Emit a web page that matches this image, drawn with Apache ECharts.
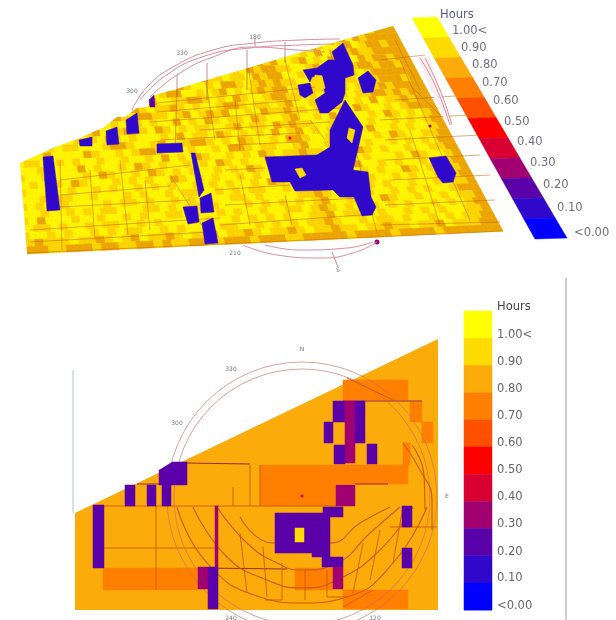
<!DOCTYPE html>
<html><head><meta charset="utf-8">
<style>html,body{margin:0;padding:0;background:#fff}#c{width:616px;height:620px;filter:blur(0.7px)}</style>
<script src="https://cdn.jsdelivr.net/npm/echarts@6/dist/echarts.min.js"></script>
</head><body><div id="c"></div>
<script>
const bandValues=[1.0,0.9,0.8,0.7,0.6,0.5,0.4,0.3,0.2,0.1,0.0];
const bandColors=['#ffff00','#ffdc00','#fbab0a','#ff8000','#ff5000','#ff0000','#d80030','#a00070','#5a00a8','#3008cc','#0000ff'];
const tickLabels=['1.00<','0.90','0.80','0.70','0.60','0.50','0.40','0.30','0.20','0.10','<0.00'];
const colorOf=v=>bandColors[bandValues.indexOf(v)];
const surfaceShades={a:'#fff400','9':'#fbd400','8':'#eba400'};

// upper panel: surface readings, rows from far edge to near edge (8=0.8, 9=0.9, a=1.0)
const surfaceRows=[
"999899889988998899889988998899889988998899889988899888",
"899a99889a9989a9988a9989a99889889988aa99899a988a898888",
"9a8a9989aa9989aa9889a9899a9a98998898a9a9889aa98a988988",
"9aa99a8899a988a9a989aa98a99a9899a88899aa9a8a9a98998888",
"a9989a9a8a99aa989a98a9a89aa988a98898aa98a9a8a9a8988988",
"9a9a8a99a98a9a9a8aa989a9a98a9a9a898899aa98a9a998898898",
"8899aa8a99a9889a99a98a9a8899a99a8988aa9a9a9889a9888888",
"a9a989aa98a9a98aa89a9a89aa9a889a989899aa9a8a99a8988898",
"9aa8a9989a99aa9889a988aa9a98a9a98988a9a98aa9a989898888",
"a89a9a9a89a8899a9a8aa99889a9a89aa98899a9aa89a998898988",
"9a9889aa9a89aa989a9989a9aa9889a99a98aa9a89aa9a8a998988",
"9a9a9889a9a9889a8899a98a9898aa9a899899a9aa9a89aa9a9888",
"aaaa9a98a89a9a99a9aa8a9a89a99a89aa98aa9a8a9aa9a89a9a98",
"9a89aaaaa98aa9889a89a9a99aa98a99a89899aa9a89a9aa9a9a98",
"aa9a8aa9a9a89a9aaa9a8a99a89a9a9a8a98a9a9aa9a8aa9a9aa98",
"a9aa9a99aaa9889aa98aa9889a9a89aa9a889aa9a89aa9a89aa998",
"9aa8aaaa89aa9a9889aaa9aa9a889a99aa98aa9aa9a9aa9a9a9a88",
"a99aa9a9aa9aa9aa9a8a9a89aa9a9a89a99899a9aa89a9aa9aa998",
"aa9aaaa8a9aa9a89a9aa9a9a89a9aa9a89a8a9aa9a9aaa9a89aa98",
"9aa9aaaa9a89aa9a89a9a9aa9a9a89aa9a989aa9a8aa9a9aa9a998",
"a9aa9a89aaa9a9a9aa89a9a9aa9a9aaa9aa8aa9aa9a9aa89a9aa98",
"9aaaaa9aa9a9aa9a9a9aa9a9a9aa9a89aa98a9a9aa9aa9a9aa9a98",
"aa9a99aa9aaa9a9aa9a99aa9a9a99aa9a9989aa9a9a9aa9aa9a998",
"9a9aa9aaaa9a99a9aa9a9a9aa99a9aaaa9989a9aa9aa9a9a9aa988",
"aa9aa9a9a99aaa99a9a99a9aaa9a9a9a9a98aa9a9a89aa9aa9a998",
"9a8aaa9aa9aa9a9aa99a9aa9a9aa9aa99a989a9aa9a9a9aa9a9a98",
"a99a9aa9a99aa9a9aaa9a9aa9a9a9a9aa998a99aa9aa9a9a9aa998",
"9aa9a9aa9a9a99aa9a9aa9a99aa9a9a9a9989aa9a99a9aa9a9a998",
"98999a9989a98a9989a998a9989a9989a99899a99899a998a99988",
"888998889889988989988998889888998888898888988889888888"
];
const surfaceCorners=[[10,40],[393,26],[503,231],[27,254]];
const surfaceEdge=[[0,0],[393,0],[393,26],[343,40],[173,90],[155,95],[147,107],[137,108],[125,117],[117,117],[103,128],[93,132],[80,138],[53,148],[20,163],[27,254],[0,254]];

const surfaceLow=[
{v:0.1,pts:[[43,157],[53,156],[60,210],[47,211]]},
{v:0.1,pts:[[79,140],[92,137],[92,146],[80,146]]},
{v:0.1,pts:[[106,131],[117,127],[119,144],[107,145]]},
{v:0.1,pts:[[126,120],[137,113],[139,133],[127,134]]},
{v:0.2,pts:[[149,100],[154,95],[155,107],[150,107]]},
{v:0.1,pts:[[157,144],[182,143],[183,152],[157,153]]},
{v:0.1,pts:[[191,153],[195,153],[204,190],[199,197]]},
{v:0.1,pts:[[200,198],[211,193],[214,212],[201,213]]},
{v:0.1,pts:[[183,207],[197,206],[199,222],[188,224]]},
{v:0.1,pts:[[202,223],[213,218],[218,243],[205,244]]},
{v:0.1,pts:[[265,157],[317,155],[330,147],[330,130],[345,100],[363,127],[353,170],[368,172],[371,197],[376,207],[372,215],[362,216],[354,197],[340,197],[333,190],[295,191],[290,182],[272,182]]},
{v:0.1,pts:[[343,43],[353,65],[354,75],[345,78],[337,65],[332,52]]},
{v:0.1,pts:[[303,70],[317,68],[328,60],[337,60],[345,78],[345,93],[342,102],[328,113],[320,113],[315,100],[325,93],[322,75],[312,77],[310,82]]},
{v:0.1,pts:[[298,85],[310,83],[313,93],[305,98],[300,95]]},
{v:0.1,pts:[[358,78],[368,71],[376,80],[373,92],[363,93]]},
{v:0.1,pts:[[429,158],[446,156],[456,173],[453,182],[443,183],[438,177]]},
{v:0.9,pts:[[349,128],[355,130],[352,143],[347,138]]},
{v:0.9,pts:[[295,169],[302,168],[306,175],[300,178]]},
{v:0.9,pts:[[315,75],[322,76],[325,88],[318,92],[314,85]]}
];
const surfaceLines=[
[[157,103],[335,85]],[[150,122],[340,108]],[[160,140],[300,133]],[[60,180],[190,165]],
[[30,230],[220,218]],[[60,207],[190,200]],[[220,225],[375,214]],[[215,190],[290,185]],
[[395,100],[470,95]],[[385,140],[480,135]],[[390,180],[490,175]],[[380,225],[500,222]],
[[177,90],[175,150]],[[206,82],[215,140]],[[248,65],[260,145]],[[285,60],[300,120]],
[[120,160],[128,235]],[[60,160],[62,250]],[[170,175],[205,230]],[[330,50],[377,233]],[[400,60],[470,220]],
[[27,253],[503,231]],[[410,85],[440,115]],[[395,40],[420,90]],
[[157,112],[300,100]],[[200,130],[330,122]],[[230,145],[300,142]],[[60,195],[170,186]],[[225,170],[265,168]],
[[225,205],[360,198]],[[30,242],[210,232]],[[380,60],[425,55]],[[380,120],[470,115]],[[385,160],[480,155]],
[[385,205],[495,200]],[[235,100],[240,150]],[[310,120],[325,140]],[[410,130],[440,225]],[[90,170],[95,240]],
[[145,180],[150,230]],[[240,175],[250,225]],[[285,195],[292,225]]
];
const surfacePinkGap=[[417,57],[430,57],[452,127],[443,117]];
const surfaceArcs=[
[[132,110],[147,87],[173,67],[213,50],[255,43],[300,40],[340,39]],
[[150,97],[177,75],[213,57],[253,47],[297,50],[325,52]],
[[140,100],[165,76],[205,56],[250,48],[300,45],[335,44]],
[[243,245],[277,255],[320,258],[353,253],[377,242]],
[[265,245],[300,250],[347,248],[373,242]],
[[420,58],[435,85],[450,125]],[[425,58],[440,90],[452,125]]
];
const surfaceTicks=[[[177,75],[177,97]],[[207,63],[207,100]],[[247,50],[247,90]],[[285,42],[285,63]],[[332,252],[338,267]],[[255,38],[255,46]]];

// lower panel: plan
const planField=[[75,513],[438,339],[438,610],[75,610]];
const planWarm=[
[343,408,380,400,0.7],[410,422,402,422,0.7],[422,433,422,443,0.7],[260,408,465,484,0.7],[260,336,484,506,0.7],
[403,410,443,465,0.7],[103,198,568,590,0.7],[295,333,568,590,0.7],[343,408,590,609,0.7]
];
const planCells=[
[333,345,401,422,0.2],[345,355,401,463,0.3],[355,365,401,443,0.2],[324,333,422,443,0.2],[334,345,445,464,0.2],
[367,377,444,464,0.2],[336,355,485,506,0.3],[172,187,462,485,0.2],[159,172,470,485,0.2],[125,135,485,506,0.2],
[147,156,485,506,0.2],[162,171,485,506,0.2],[93,104,505,568,0.2],[275,330,513,553,0.2],[323,343,507,517,0.2],
[322,343,557,567,0.2],[312,330,553,557,0.2],[333,343,567,589,0.3],[402,412,506,527,0.2],[402,412,548,568,0.2],
[198,208,567,589,0.3],[208,218,567,609,0.2],[215,218,506,567,0.3],[295,304,528,542,0.9]
];
const planWedge=[[159,470],[172,462],[172,470]];
const planLines=[
[[187,463],[250,464],[0.3]],[[137,484],[159,484],[0.3]],[[93,506],[343,506],[0.6]],[[198,568],[287,569],[0.3]],
[[343,401],[422,401],[0.4]],[[355,484],[388,484],[0.4]],[[156,506],[156,590],[0.6]],[[250,465],[250,506],[0.6]],
[[260,465],[260,506],[0.6]],[[233,487],[233,506],[0.6]],[[104,548],[215,548],[0.6]],[[390,527],[437,527],[0.6]],
[[240,533],[247,593],[0.6]],[[263,547],[267,597],[0.6]],[[282,563],[282,600],[0.6]],[[305,570],[305,600],[0.6]],
[[327,570],[327,597],[0.6]],[[363,543],[353,593],[0.6]],[[380,530],[370,580],[0.6]],[[403,507],[393,563],[0.6]],
[[347,378],[393,400],[0.6]],[[343,607],[373,590],[0.6]],[[265,600],[282,600],[0.6]],[[327,597],[347,597],[0.6]]
];
const sunRings=[[302,497,135],[302,497,128]];
const planArcs=[
[[177,507],[207,563],[260,597],[302,603],[347,597],[393,563],[427,507]],
[[193,507],[227,557],[267,580],[302,588],[337,580],[380,550],[413,507]],
[[217,507],[247,543],[277,563],[302,570],[337,563],[370,533],[400,507]],
[[240,517],[273,543],[330,543],[360,523],[390,507]],
[[403,443],[420,470],[432,500],[432,530]],
[[412,445],[424,475],[425,510]]
];
const planSpots=[[302,496,0.4,1.5],[290,138,0.5,1.5],[377,242,0.3,2.5],[430,126,0.3,1.5]];

const axisRules=[[[12,60],[17,163],'#c3d2ca'],[[73,370],[73,513],'#c8d8d0'],[[566,278],[566,620],'#bdbdbd']];
const planLegendBox=[464,492,311,27.2];
const surfaceLegendBox=[[412,18],[437,17],[567,238],[535,239]];
const planLegendY=[335,362,389,416,443,470,497,524,552,578,606];
const surfaceLegendPos=[[452,31],[461,48],[472,65],[482,83],[493,101],[504,122],[517,142],[530,163],[543,185],[557,208],[574,233]];
const smallTexts=[['180',255,37],['330',182,53],['300',132,91],['210',235,253],['S',338,270],['N',302,349],['330',231,369],['300',177,423],['E',447,496],['240',231,618],['120',375,618]];

const chart=echarts.init(document.getElementById('c'),null,{renderer:'canvas'});
const base={type:'custom',coordinateSystem:'cartesian2d',silent:true,animation:false,clip:false};
const polys=(list,z,styleFn)=>Object.assign({},base,{z,data:list.map((p,i)=>[p.pts[0][0],p.pts[0][1],i]),
  renderItem:(_,api)=>{const p=list[api.value(2)];return {type:'polygon',shape:{points:p.pts.map(q=>api.coord(q))},style:styleFn(p)};}});
const segs=(list,z,styleFn)=>Object.assign({},base,{z,data:list.map((p,i)=>[p[0][0],p[0][1],i]),
  renderItem:(_,api)=>{const p=list[api.value(2)];return {type:'line',shape:{x1:api.coord(p[0])[0],y1:api.coord(p[0])[1],x2:api.coord(p[1])[0],y2:api.coord(p[1])[1]},style:styleFn(p)};}});
const curve=(pts,color,z,w)=>({type:'line',data:pts,smooth:0.5,symbol:'none',silent:true,animation:false,z,clip:false,lineStyle:{color,width:w}});
const texts=(list,z,font,color)=>Object.assign({},base,{z,data:list.map((t,i)=>[t.x,t.y,i]),
  renderItem:(_,api)=>{const t=list[api.value(2)];const c=api.coord([t.x,t.y]);return {type:'text',x:c[0],y:c[1],style:{text:t.s,font:(t.font||font),fill:(t.fill||color),textAlign:t.align||'left',textVerticalAlign:'middle'}};}});

const lerp=(a,b,t)=>[a[0]+(b[0]-a[0])*t,a[1]+(b[1]-a[1])*t];
const quadAt=(q,u,v)=>lerp(lerp(q[0],q[1],u),lerp(q[3],q[2],u),v);
const surfaceCells=[];
surfaceRows.forEach((row,r)=>{[...row].forEach((ch,i)=>{
  const off=r%2?0.5:0;
  const u0=Math.max(0,(i-off)/row.length),u1=i===row.length-1?1:(i+1-off)/row.length,v0=r/surfaceRows.length,v1=(r+1)/surfaceRows.length;
  surfaceCells.push({c:surfaceShades[ch],pts:[quadAt(surfaceCorners,u0,v0),quadAt(surfaceCorners,u1,v0),quadAt(surfaceCorners,u1,v1),quadAt(surfaceCorners,u0,v1)]});
});});
const surfaceLegendCells=bandValues.map((v,i)=>{const t0=i/11,t1=(i+1)/11;return {v,pts:[quadAt(surfaceLegendBox,0,t0),quadAt(surfaceLegendBox,1,t0),quadAt(surfaceLegendBox,1,t1),quadAt(surfaceLegendBox,0,t1)]};});
const planLegendCells=bandValues.map((v,i)=>{const [a,b,t,h]=planLegendBox;return {v,pts:[[a,t+i*h],[b,t+i*h],[b,t+(i+1)*h],[a,t+(i+1)*h]]};});
const toRect=c=>({v:c[4],pts:[[c[0],c[2]],[c[1],c[2]],[c[1],c[3]],[c[0],c[3]]]});
const fillV=p=>{const col=colorOf(p.v);return {fill:col,stroke:col,lineWidth:0.5};};

const labelList=[
 {s:'Hours',x:497,y:307,font:'11.5px "DejaVu Sans"',fill:'#444'},
 ...tickLabels.map((s,i)=>({s,x:497,y:planLegendY[i]})),
 {s:'Hours',x:440,y:15,fill:'#5a5a90'},
 ...tickLabels.map((s,i)=>({s,x:surfaceLegendPos[i][0],y:surfaceLegendPos[i][1],fill:'#707080'}))
];
const smallList=smallTexts.map(t=>({s:t[0],x:t[1],y:t[2],align:'center'}));

const series=[
 polys(surfaceCells,1,p=>({fill:p.c,stroke:p.c,lineWidth:0.5})),
 segs(surfaceLines,2,()=>({stroke:'#c26a10',lineWidth:1,opacity:0.55})),
 polys([{pts:surfaceEdge}],3,()=>({fill:'#fff'})),
 polys([{pts:surfacePinkGap}],3,()=>({fill:'#fbeef0'})),
 polys(surfaceLow,4,fillV),
 segs(surfaceTicks,5,()=>({stroke:'#a8605a',lineWidth:1,opacity:0.7})),
 ...surfaceArcs.map(a=>curve(a,'#d98e9e',5,1)),
 polys(surfaceLegendCells,6,fillV),
 polys([{pts:planField}],1,()=>({fill:colorOf(0.8)})),
 polys(planWarm.map(toRect),2,fillV),
 segs(planLines,3,p=>({stroke:p[2][0]<0.5?'#8a1c50':'#d05a00',lineWidth:1,opacity:0.9})),
 ...planArcs.map(a=>curve(a,'#d05a00',3,1.1)),
 Object.assign({},base,{z:3,data:sunRings,renderItem:(_,api)=>{
   const c=api.coord([api.value(0),api.value(1)]);const r=api.size([api.value(2),0])[0];
   return {type:'circle',shape:{cx:c[0],cy:c[1],r},style:{fill:'none',stroke:'#c8706a',lineWidth:1,opacity:0.65}};}}),
 polys(planCells.map(toRect),4,fillV),
 polys([{pts:planWedge}],4,()=>({fill:colorOf(0.2)})),
 Object.assign({},base,{z:5,data:planSpots,renderItem:(_,api)=>{
   const c=api.coord([api.value(0),api.value(1)]);const col=colorOf(api.value(2));
   return {type:'circle',shape:{cx:c[0],cy:c[1],r:api.value(3)},style:{fill:col}};}}),
 polys(planLegendCells,6,fillV),
 segs(axisRules,1,p=>({stroke:p[2],lineWidth:1.5})),
 texts(labelList,7,'11.5px "DejaVu Sans"','#666'),
 texts(smallList,7,'6px "DejaVu Sans"','#777')
];
chart.setOption({animation:false,backgroundColor:'#fff',
 grid:{left:0,right:0,top:0,bottom:0},
 xAxis:{type:'value',min:0,max:616,show:false},
 yAxis:{type:'value',min:0,max:620,inverse:true,show:false},
 series});
</script></body></html>
